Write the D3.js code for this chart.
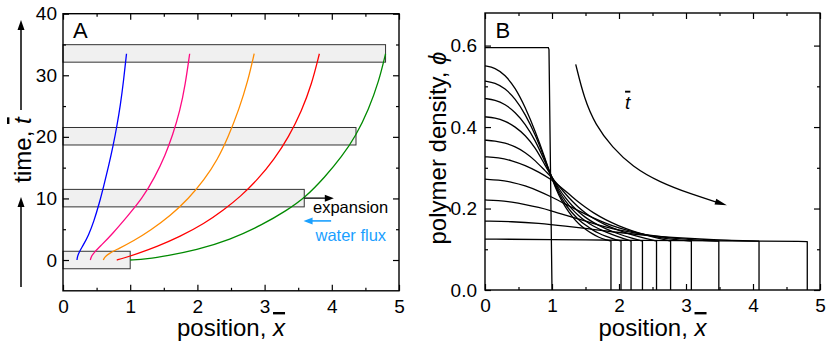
<!DOCTYPE html>
<html><head><meta charset="utf-8">
<script src="https://cdn.jsdelivr.net/npm/d3@7"></script>
<style>
body{margin:0;background:#fff}
svg{display:block}
text{font-family:"Liberation Sans",Arial,Helvetica,sans-serif;fill:#000}
</style></head><body>
<svg id="c" width="830" height="344"></svg>
<script>
// ---------- Panel A data ----------
const xTicks = [0,1,2,3,4,5];
const xMinor = [0.5,1.5,2.5,3.5,4.5];
const tTicks = [0,10,20,30,40];
const tMinor = [5,15,25,35];
const bandTimes = [0,10.05,20.1,33.55];
const bandEdges = [1.0,3.59,4.36,4.80];
const bandHalf = 1.42;
const blueTraj   = [[0.208,0],[0.215,0.6],[0.245,1.4],[0.30,2.4],[0.38,4.0],[0.46,6.3],[0.54,9.2],[0.61,12.2],[0.68,15.3],[0.745,18.5],[0.80,21.6],[0.855,25.2],[0.90,29.0],[0.945,33.5]];
const pinkTraj   = [[0.407,0],[0.42,0.6],[0.47,1.3],[0.57,2.4],[0.74,4.3],[0.95,7.0],[1.18,10.0],[1.37,13.5],[1.52,17.0],[1.63,20.2],[1.74,24.2],[1.82,28.5],[1.885,33.5]];
const orangeTraj = [[0.6,0],[0.62,0.5],[0.69,1.1],[0.82,1.8],[1.05,3.1],[1.3,4.8],[1.6,7.2],[1.87,10.0],[2.1,13.0],[2.3,16.3],[2.46,20.0],[2.62,24.5],[2.75,29.0],[2.845,33.5]];
const redTraj    = [[0.8,0],[0.9,0.3],[1.1,1.0],[1.4,2.2],[1.74,3.8],[2.1,5.9],[2.4,8.2],[2.64,10.3],[2.9,13.1],[3.14,16.3],[3.36,20.0],[3.55,24.2],[3.7,28.5],[3.815,33.5]];
const greenTraj  = [[1.0,0],[1.25,0.18],[1.55,0.7],[1.98,1.62],[2.48,3.25],[2.98,5.8],[3.32,8.0],[3.6,10.1],[3.9,13.5],[4.15,16.8],[4.36,20.2],[4.55,24.5],[4.7,29.0],[4.8,33.5]];
const trajColors = ["#0000ff","#ff0a82","#ff8c00","#ff0000","#008a00"];
const expansionArrow = [[3.59,10.05],[4.03,10.05]];
const fluxArrow = [[3.99,6.35],[3.58,6.35]];

// ---------- Panel B data ----------
const phiTicks = [0,0.2,0.4,0.6];
const phiMinor = [0.1,0.3,0.5];
const initialStep = [[0,0.595],[0.945,0.595],[0.955,0.59],[1.0,0]];
const fronts = [1.88,2.03,2.18,2.35,2.56,2.77,3.08,3.49,4.09,4.81];
const prof1 = [[0,.550],[.15,.546],[.3,.528],[.45,.497],[.6,.449],[.75,.39],[.9,.322],[1.0,.272],[1.1,.232],[1.2,.203],[1.3,.18],[1.4,.162],[1.5,.149],[1.6,.138],[1.7,.129],[1.8,.123],[1.88,.12]];
const prof2 = [[0,.513],[.15,.509],[.3,.495],[.45,.47],[.6,.432],[.75,.382],[.9,.318],[1.0,.274],[1.1,.237],[1.2,.21],[1.3,.189],[1.4,.172],[1.5,.159],[1.6,.148],[1.7,.139],[1.8,.132],[1.9,.126],[2.03,.12]];
const prof3 = [[0,.47],[.15,.467],[.3,.456],[.45,.437],[.6,.408],[.75,.368],[.9,.313],[1.0,.276],[1.1,.243],[1.2,.218],[1.3,.198],[1.4,.182],[1.5,.169],[1.6,.158],[1.8,.142],[2.0,.13],[2.1,.125],[2.18,.12]];
const prof4 = [[0,.425],[.15,.423],[.3,.415],[.45,.401],[.6,.38],[.75,.35],[.9,.305],[1.0,.277],[1.1,.249],[1.2,.226],[1.3,.207],[1.4,.191],[1.5,.178],[1.6,.167],[1.8,.15],[2.0,.137],[2.2,.127],[2.35,.12]];
const prof5 = [[0,.368],[.15,.366],[.3,.361],[.45,.352],[.6,.338],[.75,.318],[.9,.292],[1.0,.276],[1.1,.256],[1.2,.236],[1.3,.218],[1.4,.202],[1.5,.189],[1.6,.177],[1.8,.159],[2.0,.146],[2.2,.135],[2.4,.126],[2.56,.12]];
const prof6 = [[0,.327],[.2,.325],[.4,.318],[.6,.306],[.8,.29],[1.0,.27],[1.1,.257],[1.2,.243],[1.3,.229],[1.4,.215],[1.5,.203],[1.6,.191],[1.8,.172],[2.0,.157],[2.2,.145],[2.4,.135],[2.6,.126],[2.77,.12]];
const prof7 = [[0,.272],[.2,.27],[.4,.265],[.6,.256],[.8,.243],[1.0,.228],[1.2,.211],[1.4,.194],[1.6,.178],[1.8,.164],[2.0,.152],[2.2,.143],[2.4,.135],[2.6,.129],[2.8,.124],[3.08,.12]];
const prof8 = [[0,.221],[.2,.22],[.4,.216],[.6,.21],[.8,.203],[1.0,.194],[1.2,.184],[1.4,.174],[1.6,.164],[1.8,.155],[2.0,.147],[2.4,.135],[2.8,.127],[3.2,.122],[3.49,.12]];
const prof9 = [[0,.169],[.4,.168],[.8,.164],[1.2,.157],[1.6,.149],[2.0,.141],[2.4,.134],[2.8,.129],[3.2,.125],[3.6,.122],[4.09,.12]];
const prof10 = [[0,.125],[1,.124],[2,.122],[3,.121],[4,.12],[4.81,.119]];
const timeArrow = [[1.354,0.554],[1.48,0.47],[1.65,0.405],[1.9,0.35],[2.2,0.303],[2.6,0.265],[3.1,0.234],[3.61,0.208]];
const timeLabelPos = [2.13,0.445];

const svg = d3.select("#c");
const FONT = '"Liberation Sans",Arial,Helvetica,sans-serif';

function frame(g, x, y, xMaj, xMin, yMaj, yMin, yFmt, yPad){
  const [x0,x1] = x.range(), [y0,y1] = y.range();
  g.append("g").attr("transform",`translate(0,${y0})`).call(d3.axisBottom(x).tickValues(xMaj).tickSizeInner(-6).tickSizeOuter(0).tickPadding(9).tickFormat(d3.format("d")));
  g.append("g").attr("transform",`translate(0,${y0})`).call(d3.axisBottom(x).tickValues(xMin).tickSizeInner(-3).tickSizeOuter(0).tickFormat(""));
  g.append("g").attr("transform",`translate(0,${y1})`).call(d3.axisTop(x).tickValues(xMaj).tickSizeInner(-6).tickSizeOuter(0).tickFormat(""));
  g.append("g").attr("transform",`translate(0,${y1})`).call(d3.axisTop(x).tickValues(xMin).tickSizeInner(-3).tickSizeOuter(0).tickFormat(""));
  g.append("g").attr("transform",`translate(${x0},0)`).call(d3.axisLeft(y).tickValues(yMaj).tickSizeInner(-6).tickSizeOuter(0).tickPadding(yPad).tickFormat(yFmt));
  g.append("g").attr("transform",`translate(${x0},0)`).call(d3.axisLeft(y).tickValues(yMin).tickSizeInner(-3).tickSizeOuter(0).tickFormat(""));
  g.append("g").attr("transform",`translate(${x1},0)`).call(d3.axisRight(y).tickValues(yMaj).tickSizeInner(-6).tickSizeOuter(0).tickFormat(""));
  g.append("g").attr("transform",`translate(${x1},0)`).call(d3.axisRight(y).tickValues(yMin).tickSizeInner(-3).tickSizeOuter(0).tickFormat(""));
  g.selectAll(".domain").remove();
  g.selectAll(".tick line").attr("stroke","#000").attr("stroke-width",1.2);
  g.selectAll(".tick text").attr("font-size",19).attr("font-family",FONT).attr("fill","#000");
  g.selectAll("g").attr("font-family",FONT);
  g.append("rect").attr("x",x0).attr("y",y1).attr("width",x1-x0).attr("height",y0-y1)
    .attr("fill","none").attr("stroke","#000").attr("stroke-width",1.4);
}

function arrowHead(g, tip, from, len, halfW, color){
  const dx = tip[0]-from[0], dy = tip[1]-from[1];
  const L = Math.hypot(dx,dy), ux = dx/L, uy = dy/L;
  const bx = tip[0]-ux*len, by = tip[1]-uy*len;
  g.append("path").attr("d",`M${tip[0]},${tip[1]}L${bx-uy*halfW},${by+ux*halfW}L${bx+uy*halfW},${by-ux*halfW}Z`).attr("fill",color);
}

// ---------- Panel A ----------
const xA = d3.scaleLinear().domain([0,5]).range([63,399]);
const yA = d3.scaleLinear().domain([-5,40]).range([290.8,13.7]);
const gA = svg.append("g");

gA.selectAll("rect.band").data(bandTimes).join("rect").attr("class","band")
  .attr("x",xA(0)).attr("y",(d)=>yA(d+bandHalf))
  .attr("width",(d,i)=>xA(bandEdges[i])-xA(0))
  .attr("height",(d)=>yA(d-bandHalf)-yA(d+bandHalf))
  .attr("fill","#f0f0f0").attr("stroke","#333").attr("stroke-width",1);

const lineA = d3.line().x(d=>xA(d[0])).y(d=>yA(d[1])).curve(d3.curveBasis);
[blueTraj,pinkTraj,orangeTraj,redTraj,greenTraj].forEach((tr,i)=>{
  gA.append("path").attr("d",lineA(tr)).attr("fill","none").attr("stroke",trajColors[i]).attr("stroke-width",1.3);
});

frame(gA, xA, yA, xTicks, xMinor, tTicks, tMinor, d3.format("d"), 6);

{
  const a = expansionArrow.map(p=>[xA(p[0]),yA(p[1])]);
  gA.append("line").attr("x1",a[0][0]).attr("y1",a[0][1]).attr("x2",a[1][0]-6).attr("y2",a[1][1]).attr("stroke","#000").attr("stroke-width",1.3);
  arrowHead(gA,a[1],a[0],9,3.5,"#000");
  gA.append("text").attr("x",313).attr("y",213).attr("font-size",16.5).text("expansion");
  const b = fluxArrow.map(p=>[xA(p[0]),yA(p[1])]);
  gA.append("line").attr("x1",b[0][0]).attr("y1",b[0][1]).attr("x2",b[1][0]+6).attr("y2",b[1][1]).attr("stroke","#1aa0ff").attr("stroke-width",1.6);
  arrowHead(gA,b[1],b[0],9,3.5,"#1aa0ff");
  gA.append("text").attr("x",315.5).attr("y",241).attr("font-size",16.5).style("fill","#1aa0ff").text("water flux");
}
gA.append("text").attr("x",73).attr("y",37.5).attr("font-size",22).text("A");

{
  const t = gA.append("text").attr("x",231).attr("y",336).attr("text-anchor","middle").attr("font-size",24);
  t.append("tspan").text("position, ");
  t.append("tspan").attr("font-style","italic").style("text-decoration","overline").text("x");
  const ty = gA.append("text").attr("transform","translate(31,150) rotate(-90)").attr("text-anchor","middle").attr("font-size",24);
  ty.append("tspan").text("time, ");
  ty.append("tspan").attr("font-style","italic").style("text-decoration","overline").text("t");
  [[287,197],[110,20]].forEach(([yb,yt])=>{
    gA.append("line").attr("x1",21).attr("x2",21).attr("y1",yb).attr("y2",yt+8).attr("stroke","#000").attr("stroke-width",1.5);
    arrowHead(gA,[21,yt],[21,yb],10,3.5,"#000");
  });
}

// ---------- Panel B ----------
const xB = d3.scaleLinear().domain([0,5]).range([485,820]);
const yB = d3.scaleLinear().domain([0,0.68]).range([290,13]);
const gB = svg.append("g");
const lineB = d3.line().x(d=>xB(d[0])).y(d=>yB(d[1])).curve(d3.curveBasis);
const lineLin = d3.line().x(d=>xB(d[0])).y(d=>yB(d[1]));

gB.append("path").attr("d",lineLin(initialStep)).attr("fill","none").attr("stroke","#000").attr("stroke-width",1.3);
[prof1,prof2,prof3,prof4,prof5,prof6,prof7,prof8,prof9,prof10].forEach((p,i)=>{
  const last = p[p.length-1];
  gB.append("path").attr("d",lineB(p)+`L${xB(fronts[i])},${yB(last[1])}L${xB(fronts[i])},${yB(0)}`)
    .attr("fill","none").attr("stroke","#000").attr("stroke-width",1.3).attr("stroke-linejoin","round");
});

frame(gB, xB, yB, xTicks, xMinor, phiTicks, phiMinor, d3.format(".1f"), 8);

{
  const pts = timeArrow.map(p=>[xB(p[0]),yB(p[1])]);
  const n = pts.length;
  const tip = pts[n-1], prev = pts[n-2];
  const dx = tip[0]-prev[0], dy = tip[1]-prev[1], L = Math.hypot(dx,dy);
  const shaftEnd = [tip[0]-dx/L*8, tip[1]-dy/L*8];
  gB.append("path").attr("d",d3.line().curve(d3.curveBasis)(pts.slice(0,n-1).concat([shaftEnd])))
    .attr("fill","none").attr("stroke","#000").attr("stroke-width",1.3);
  arrowHead(gB,tip,prev,12,3,"#000");
  const tl = gB.append("text").attr("x",xB(timeLabelPos[0])).attr("y",yB(timeLabelPos[1])).attr("font-size",19).attr("text-anchor","middle");
  tl.append("tspan").attr("font-style","italic").style("text-decoration","overline").text("t");
}
gB.append("text").attr("x",495.5).attr("y",37.5).attr("font-size",22).text("B");
{
  const t = gB.append("text").attr("x",652.5).attr("y",336).attr("text-anchor","middle").attr("font-size",24);
  t.append("tspan").text("position, ");
  t.append("tspan").attr("font-style","italic").style("text-decoration","overline").text("x");
  const ty = gB.append("text").attr("transform","translate(446,148) rotate(-90)").attr("text-anchor","middle").attr("font-size",24);
  ty.append("tspan").text("polymer density, ");
  ty.append("tspan").attr("font-style","italic").text("ϕ");
}
</script></body></html>
